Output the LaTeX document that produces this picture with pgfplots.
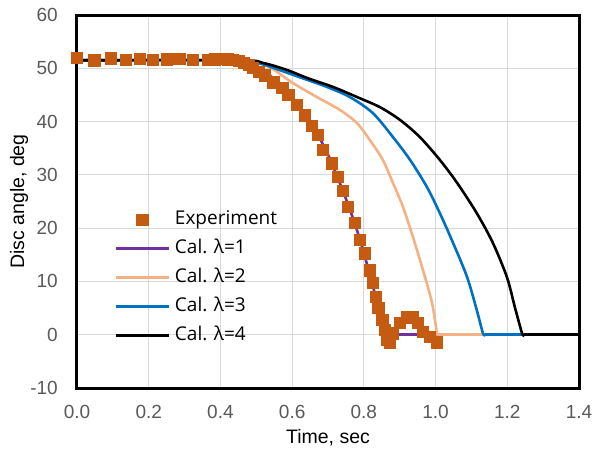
\documentclass[border=0pt]{standalone}
\usepackage{pgfplots}
\pgfplotsset{compat=1.18}
\usepackage{fontspec}
\setmainfont{Liberation Sans}
\newfontfamily\legfont{Open Sans}
\definecolor{expcol}{HTML}{C55A11}
\definecolor{lone}{HTML}{7030A0}
\definecolor{ltwo}{HTML}{F4B183}
\definecolor{lthree}{HTML}{0070C0}
\definecolor{gridc}{HTML}{D9D9D9}
\definecolor{tickc}{HTML}{595959}
\pgfplotsset{
  linelegend/.style={legend image code/.code={\draw[##1] (0pt,0pt) -- (53pt,0pt);}},
  marklegend/.style={legend image code/.code={\draw[##1] plot coordinates {(26.5pt,0pt)};}},
}
\begin{document}
\begin{tikzpicture}
\begin{axis}[
  at={(0pt,0pt)}, anchor=south west,
  scale only axis, width=502pt, height=373pt,
  xmin=0, xmax=1.4, ymin=-10, ymax=60,
  xtick={0,0.2,0.4,0.6,0.8,1.0,1.2,1.4},
  xticklabels={0.0,0.2,0.4,0.6,0.8,1.0,1.2,1.4},
  ytick={-10,0,10,20,30,40,50,60},
  yticklabels={-10,0,10,20,30,40,50,60},
  grid=major, major grid style={gridc, line width=1.2pt},
  major tick length=0pt,
  separate axis lines,
  every outer x axis line/.append style={black, line width=3pt, line cap=rect},
  every outer y axis line/.append style={black, line width=3pt, line cap=rect},
  tick label style={font=\fontsize{19}{22}\selectfont, text=tickc},
  xticklabel style={anchor=north, inner sep=0pt, yshift=-17pt},
  yticklabel style={anchor=east, inner sep=0pt, xshift=-19pt},
  xlabel={Time, sec}, ylabel={Disc angle, deg},
  every axis x label/.style={at={([yshift=-50pt]rel axis cs:0.5,0)}, anchor=center, font=\fontsize{19.5}{23}\selectfont},
  every axis y label/.style={at={([xshift=-58pt]rel axis cs:0,0.5)}, rotate=90, anchor=center, font=\fontsize{19.5}{23}\selectfont},
  clip=false,
  set layers,
  legend cell align=left,
  legend style={at={(rel axis cs:0.074,0.4766)}, anchor=north west, draw=none, fill=none,
    inner sep=0pt, row sep=11pt, font=\legfont\fontsize{19}{22}\selectfont,
    nodes={inner sep=0pt, text height=14pt, text depth=4pt},
    /tikz/every odd column/.append style={column sep=5pt}},
]
\addplot[only marks, mark=square*, mark size=5.6pt, color=expcol, on layer=axis foreground, marklegend]
coordinates {
(0.000,52.0) (0.048,51.5) (0.095,51.9) (0.135,51.6) (0.175,51.8) (0.210,51.6)
(0.250,51.7) (0.285,51.8) (0.322,51.6) (0.365,51.6) (0.385,51.7) (0.405,51.8)
(0.420,51.7) (0.435,51.6) (0.450,51.4) (0.465,51.0) (0.478,50.6) (0.491,50.1)
(0.507,49.4) (0.524,48.7) (0.547,47.4) (0.572,46.3) (0.589,45.0) (0.613,43.1)
(0.636,41.2) (0.655,39.3) (0.672,37.5) (0.686,34.7) (0.711,32.2) (0.728,29.6)
(0.742,27.1) (0.756,24.0) (0.775,21.0) (0.789,17.8) (0.803,15.3) (0.817,12.1)
(0.825,9.7) (0.834,7.1) (0.840,5.0) (0.851,2.8) (0.859,0.9) (0.864,-1.0)
(0.872,-1.4) (0.881,0.3) (0.901,2.2) (0.920,3.3) (0.937,3.3) (0.951,2.2)
(0.965,0.5) (0.984,-0.4) (1.004,-1.4)
};
\addlegendentry{Experiment}
\addplot[lone, line width=2.6pt, linelegend, smooth, tension=0.5] coordinates {
(0.00,51.5) (0.40,51.5) (0.45,51.2) (0.50,50.3) (0.55,48.0) (0.60,44.6)
(0.65,40.0) (0.70,33.8) (0.75,25.5) (0.78,19.8) (0.80,15.3) (0.82,10.5)
(0.84,5.2) (0.855,0.8) (0.86,0)
};
\addlegendentry{Cal. λ=1}
\addplot[lone, line width=2.6pt, forget plot] coordinates {(0.86,0) (1.40,0)};
\addplot[ltwo, line width=2.6pt, linelegend, smooth, tension=0.5] coordinates {
(0.00,51.5) (0.45,51.5) (0.50,51.0) (0.538,50.2) (0.603,47.2) (0.669,44.6)
(0.733,42.2) (0.781,39.7) (0.817,36.5) (0.853,32.8) (0.881,28.5) (0.909,24.0)
(0.937,18.3) (0.965,12.1) (0.990,6.0) (1.004,0.3) (1.008,0)
};
\addlegendentry{Cal. λ=2}
\addplot[ltwo, line width=2.6pt, forget plot] coordinates {(1.008,0) (1.40,0)};
\addplot[lthree, line width=2.6pt, linelegend, smooth, tension=0.5] coordinates {
(0.00,51.5) (0.45,51.5) (0.50,51.1) (0.538,50.3) (0.622,48.3) (0.697,46.5)
(0.761,44.6) (0.825,41.6) (0.881,37.1) (0.929,32.8) (0.976,27.7) (1.012,22.8)
(1.049,17.2) (1.088,10.8) (1.115,4.6) (1.132,0.3) (1.138,0)
};
\addlegendentry{Cal. λ=3}
\addplot[lthree, line width=2.6pt, forget plot] coordinates {(1.138,0) (1.40,0)};
\addplot[black, line width=2.6pt, linelegend, smooth, tension=0.5] coordinates {
(0.00,51.5) (0.45,51.5) (0.519,51.0) (0.585,49.7) (0.641,48.2) (0.714,46.5)
(0.781,44.6) (0.845,42.7) (0.901,40.3) (0.956,37.1) (1.012,32.8) (1.060,28.5)
(1.115,22.8) (1.160,17.2) (1.199,10.8) (1.221,5.2) (1.241,0.3) (1.246,0)
};
\addlegendentry{Cal. λ=4}
\addplot[black, line width=2.6pt, forget plot] coordinates {(1.246,0) (1.40,0)};
\end{axis}
\pgfresetboundingbox
\path[use as bounding box] (-77pt,-65pt) rectangle (515pt,388pt);
\end{tikzpicture}
\end{document}
